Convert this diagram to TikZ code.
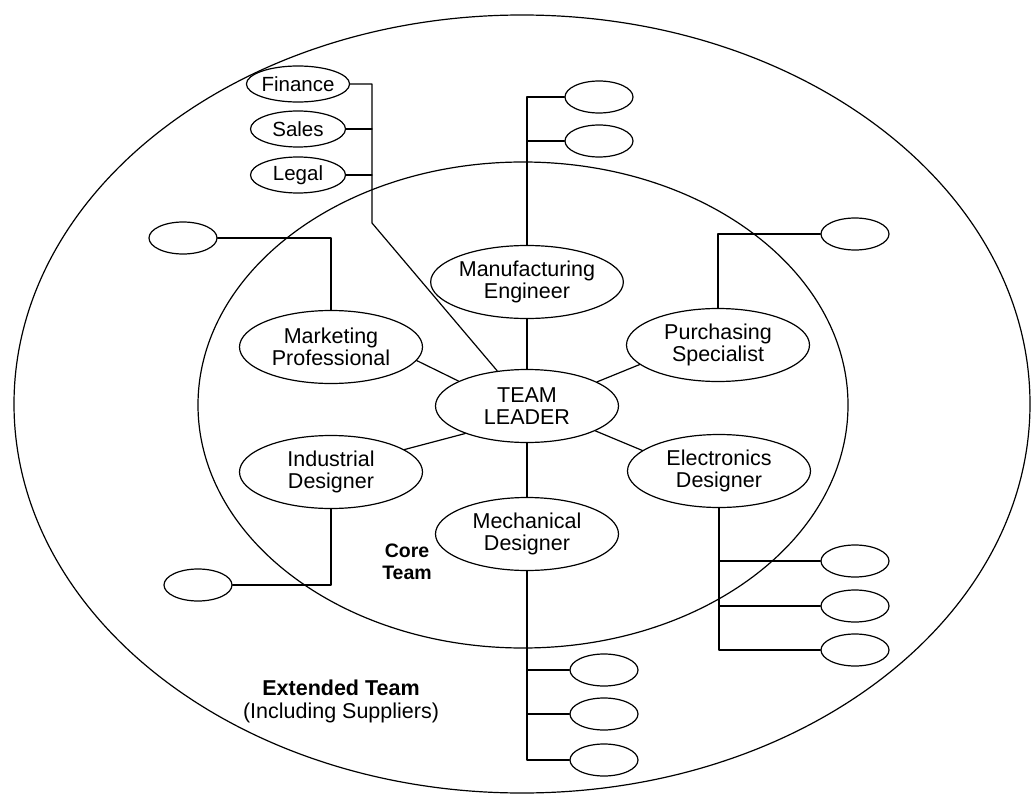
\documentclass[tikz,border=0pt]{standalone}
\usepackage{fontspec}
\setmainfont{Liberation Sans}
\usetikzlibrary{shapes.geometric}
\usetikzlibrary{positioning}

\begin{document}
\begin{tikzpicture}[line cap=round,line join=round,x=1pt,y=-1pt,
	role/.style={draw,ellipse,line width=1.2pt,minimum width=183pt,minimum height=73pt,inner sep=0pt,align=center,font=\fontsize{21.5}{22.5}\selectfont},
	dept/.style={draw,ellipse,line width=1.2pt,minimum width=95pt,minimum height=36pt,inner sep=0pt,font=\fontsize{20.5}{22}\selectfont},
	blank/.style={draw,ellipse,line width=1.2pt,minimum width=68pt,minimum height=32pt,inner sep=0pt},
	link/.style={line width=1.2pt},
	tag/.style={align=center,font=\fontsize{21.5}{23}\selectfont}]
						\useasboundingbox (0,0) rectangle (1031,797);
						\draw[link] (522,404) ellipse [x radius=508pt, y radius=389pt];
						\draw[link] (523,405) ellipse [x radius=325pt, y radius=243pt];
						\node[role] (tl) at (527,406) {TEAM\\LEADER};
						\node[role] (mfg) at (527,282) {Manufacturing\\Engineer};
						\node[role] (mkt) at (331,347) {Marketing\\Professional};
						\node[role] (pur) at (718,345) {Purchasing\\Specialist};
						\node[role] (ind) at (331,472) {Industrial\\Designer};
						\node[role] (ele) at (719,471) {Electronics\\Designer};
						\node[role] (mec) at (527,534) {Mechanical\\Designer};
						\node[dept] (fin) at (298,84) {Finance};
						\node[dept] (sal) at (298,129) {Sales};
						\node[dept] (leg) at (298,175) {Legal};
						\coordinate (fjoin) at (372,223);
						\node[blank] (mf1) at (599,97) {};
						\node[blank] (mf2) at (599,141) {};
						\node[blank] (mk1) at (183,238) {};
						\node[blank] (pu1) at (855,234) {};
						\node[blank] (in1) at (198,585) {};
						\foreach \n/\y in {1/561,2/606,3/650}
						\node[blank] (el\n) at (855,\y) {};
						\foreach \n/\y in {1/670,2/714,3/760}
						\node[blank] (me\n) at (604,\y) {};
						\node[tag,font=\fontsize{19.5}{22}\selectfont\bfseries] (core) at (407,562) {Core\\Team};
						\node[tag] (ext) at (341,701) {\textbf{Extended Team}\\(Including Suppliers)};
						\draw[link] (tl) -- (mfg);
						\draw[link] (tl) -- (mec);
						\draw[link] (tl.160) -- (mkt.-9);
						\draw[link] (tl.19) -- (pur.194);
						\draw[link] (tl.204) -- (ind.17);
						\draw[link] (tl.-20) -- (ele.165);
						\draw[link] (fin.east) -| (fjoin) -- (tl);
						\draw[link] (sal.east) -- (sal.east -| fjoin);
						\draw[link] (leg.east) -- (leg.east -| fjoin);
						\draw[link] (mfg.north) |- (mf1.west);
						\draw[link] (mf2.west) -- (mf2.west -| mfg.north);
						\draw[link] (mkt.north) |- (mk1.east);
						\draw[link] (pur.north) |- (pu1.west);
						\draw[link] (ind.south) |- (in1.east);
						\draw[link] (ele.south) |- (el3.west);
						\foreach \n in {1,2}
						\draw[link] (el\n.west) -- (el\n.west -| ele.south);
						\draw[link] (mec.south) |- (me3.west);
						\foreach \n in {1,2}
						\draw[link] (me\n.west) -- (me\n.west -| mec.south);
					\end{tikzpicture}
\end{document}
